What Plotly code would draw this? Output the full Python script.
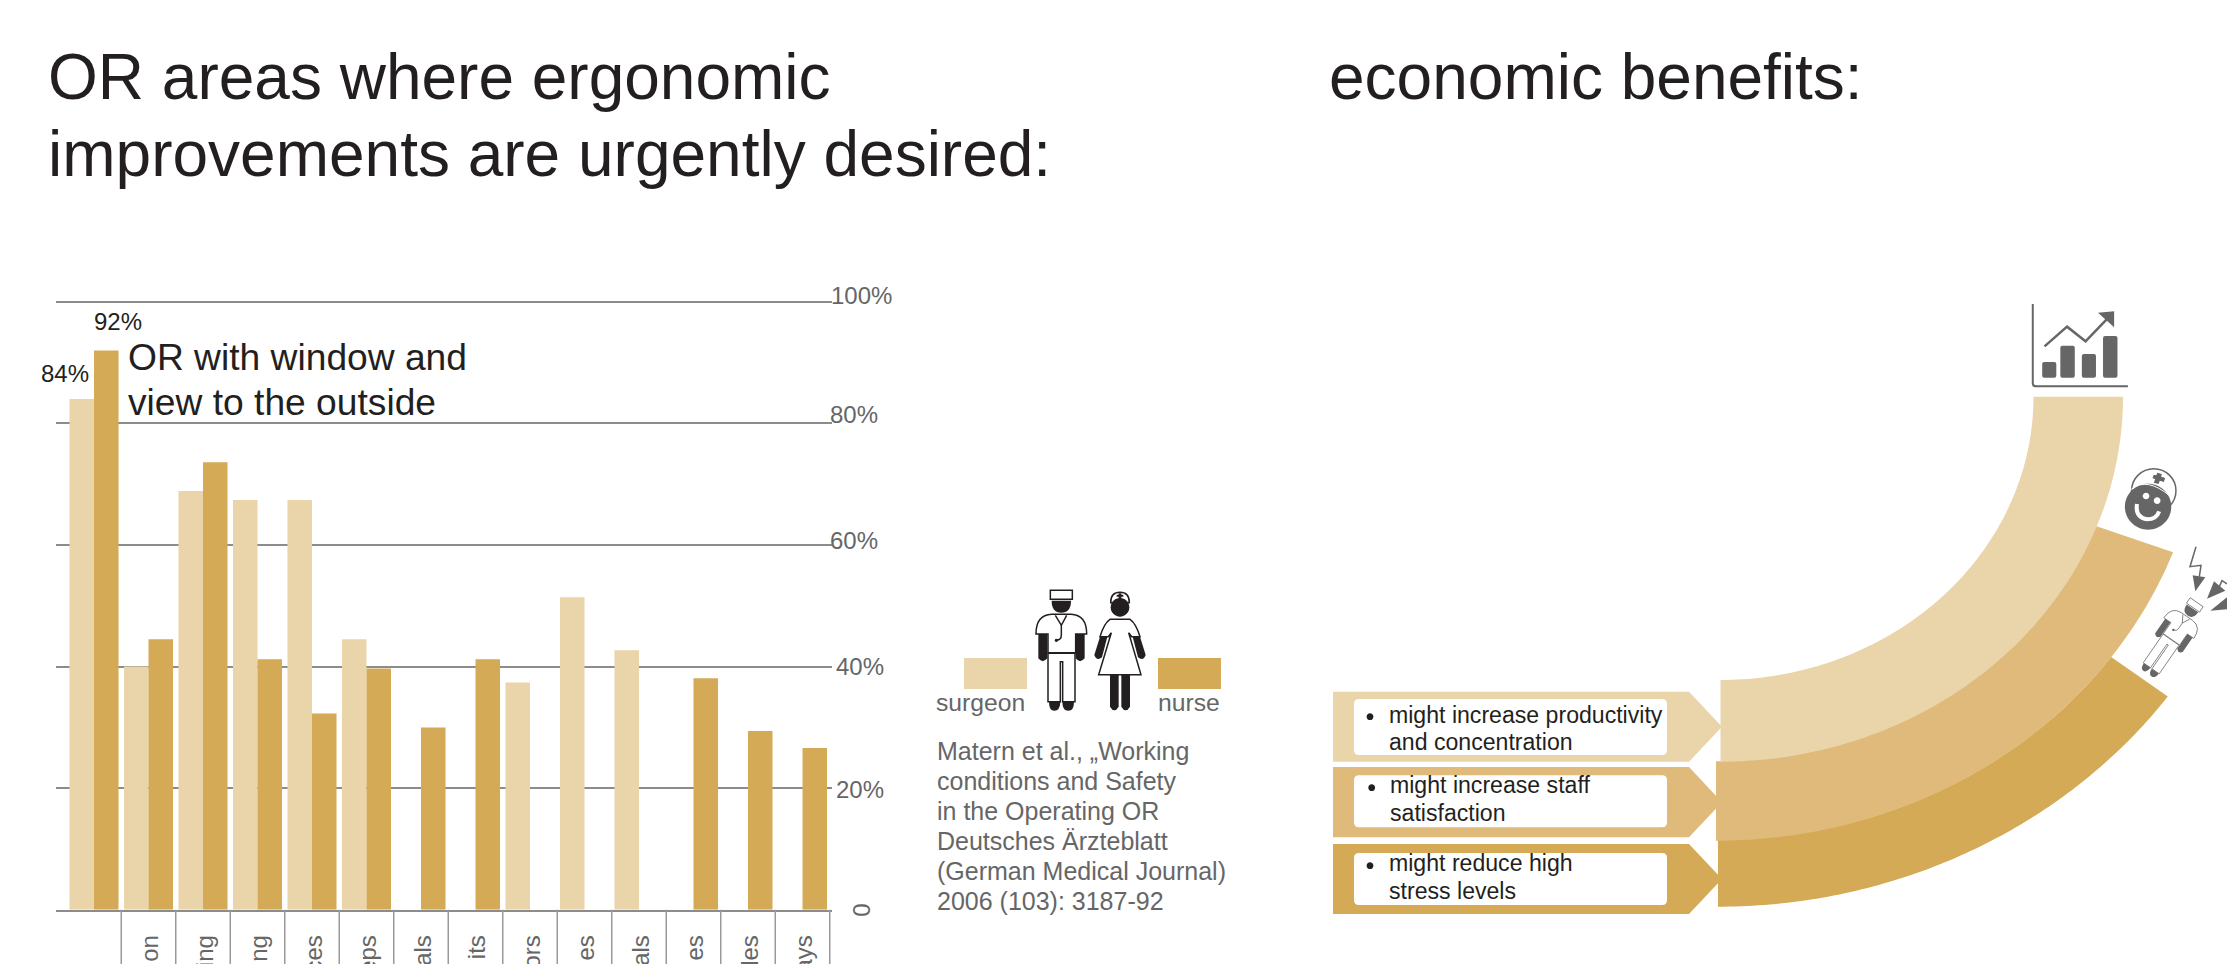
import math
import re
import plotly.graph_objects as go

W, H = 2227, 964

# Survey results, percent of respondents per OR area
tick_fragments = ["", "on", "ing", "ng", "ces", "eps", "als", "its", "ors", "es", "als", "es", "les", "ays"]
surgeon = [84, 40, 68.9, 67.4, 67.4, 44.5, None, None, 37.4, 51.4, 42.7, None, None, None]
nurse = [92, 44.5, 73.6, 41.2, 32.3, 39.7, 30, 41.2, None, None, None, 38.1, 29.4, 26.6]
y_ticks = [100, 80, 60, 40, 20]

title_left = ["OR areas where ergonomic", "improvements are urgently desired:"]
title_right = "economic benefits:"
callout = ["OR with window and", "view to the outside"]
citation = ["Matern et al., „Working", "conditions and Safety", "in the Operating OR",
            "Deutsches Ärzteblatt", "(German Medical Journal)", "2006 (103): 3187-92"]
benefits = [["might increase productivity", "and concentration"],
            ["might increase staff", "satisfaction"],
            ["might reduce high", "stress levels"]]

LIGHT, MID, DARK = "#EAD4A9", "#DFBA7B", "#D5AA57"
INK, GREY = "#231F20", "#666666"
FONT = "Liberation Sans"

# The scale runs slightly past 100 so the top gridline is kept
Y_MAX = 100.5
AX_L, AX_R, AX_B = 56, 832, 909.8
AX_T = AX_B - 6.08 * Y_MAX
CAT0, CAT_STEP = 94, 54.5


def px_x(x):
    return x / W


def px_y(y):
    return 1 - y / H


def path(d, fn=lambda x, y: (x, y)):
    """Map an absolute M/L/Q/C/Z path through fn, then into paper coordinates."""
    out, pending = [], []
    for tok in re.findall(r"[MLQCZ]|-?\d+\.?\d*", d):
        if tok.isalpha():
            out.append(tok)
        else:
            pending.append(float(tok))
            if len(pending) == 2:
                x, y = fn(*pending)
                out.append(f"{px_x(x):.6f},{px_y(y):.6f}")
                pending = []
    return " ".join(out)


def affine(ox, oy, sx, sy=None):
    sy = sx if sy is None else sy
    return lambda x, y: (ox + x * sx, oy + y * sy)


shapes, notes = [], []


def add_path(d, fn=lambda x, y: (x, y), fill=None, line=None, width=0):
    shapes.append(dict(type="path", path=path(d, fn), xref="paper", yref="paper", layer="above",
                       fillcolor=fill or "rgba(0,0,0,0)",
                       line=dict(color=line or "rgba(0,0,0,0)", width=width)))


def circle_d(cx, cy, r):
    k = 0.5523 * r
    return (f"M{cx - r} {cy} C{cx - r} {cy - k} {cx - k} {cy - r} {cx} {cy - r} "
            f"C{cx + k} {cy - r} {cx + r} {cy - k} {cx + r} {cy} "
            f"C{cx + r} {cy + k} {cx + k} {cy + r} {cx} {cy + r} "
            f"C{cx - k} {cy + r} {cx - r} {cy + k} {cx - r} {cy} Z")


def rrect_d(x0, y0, x1, y1, r):
    return (f"M{x0 + r} {y0} L{x1 - r} {y0} Q{x1} {y0} {x1} {y0 + r} L{x1} {y1 - r} Q{x1} {y1} {x1 - r} {y1} "
            f"L{x0 + r} {y1} Q{x0} {y1} {x0} {y1 - r} L{x0} {y0 + r} Q{x0} {y0} {x0 + r} {y0} Z")


def label(x, y, s, size, color=INK, anchor="left", angle=0):
    notes.append(dict(x=px_x(x), y=px_y(y), xref="paper", yref="paper", text=s, showarrow=False,
                      xanchor=anchor, yanchor="middle", textangle=angle, borderpad=0, borderwidth=0,
                      font=dict(family=FONT, size=size, color=color)))


def band(cx, cy, rx0, ry0, rx1, ry1, t0, t1, fill):
    """Elliptical ring segment between angles t0 and t1 (degrees, clockwise from east)."""
    steps = 90
    ts = [math.radians(t0 + (t1 - t0) * i / steps) for i in range(steps + 1)]
    outer = [(cx + rx1 * math.cos(t), cy + ry1 * math.sin(t)) for t in ts]
    inner = [(cx + rx0 * math.cos(t), cy + ry0 * math.sin(t)) for t in reversed(ts)]
    pts = outer + inner
    d = "M" + " L".join(f"{x:.2f} {y:.2f}" for x, y in pts) + " Z"
    add_path(d, fill=fill)


def draw_surgeon(fn, ink, line_w):
    add_path("M451 91 L517 91 L517 118 L451 118 Z", fn, "white", ink, line_w)
    add_path("M455 122 L513 122 Q513 158 484 158 Q455 158 455 122 Z", fn, ink)
    add_path("M415 218 L442 218 L442 295 Q428 312 415 295 Z", fn, ink)
    add_path("M527 218 L554 218 L554 295 Q540 312 527 295 Z", fn, ink)
    add_path("M444 280 L525 280 L525 425 L488 425 L488 305 L481 305 L481 425 L444 425 Z", fn, "white", ink, line_w)
    add_path("M408 222 Q408 165 455 163 L513 163 Q560 165 560 222 L527 222 L527 278 L444 278 L444 222 Z",
             fn, "white", ink, line_w)
    add_path("M466 166 L484 196 L500 166", fn, None, ink, line_w)
    add_path("M484 196 L484 225 Q484 240 470 240", fn, None, ink, line_w)
    add_path(circle_d(469, 241, 5), fn, ink)
    add_path("M447 425 L481 425 Q480 452 463 452 Q447 452 447 425 Z", fn, ink)
    add_path("M487 425 L522 425 Q522 452 505 452 Q487 452 487 425 Z", fn, ink)


def draw_nurse(fn, ink, line_w):
    add_path("M632 128 Q632 97 660 97 Q688 97 688 128 Z", fn, "white", ink, line_w)
    add_path("M656 100 L664 100 L664 104 L670 104 L670 110 L664 110 L664 116 L656 116 L656 110 L650 110 L650 104 L656 104 Z",
             fn, ink)
    add_path(circle_d(660, 142, 28), fn, ink)
    add_path("M600 230 L622 230 L606 292 Q590 305 583 285 Z", fn, ink)
    add_path("M698 230 L720 230 L737 285 Q730 305 714 292 Z", fn, ink)
    add_path("M630 344 L656 344 L656 440 Q643 462 630 440 Z", fn, ink)
    add_path("M664 344 L690 344 L690 440 Q677 462 664 440 Z", fn, ink)
    add_path("M630 178 L690 178 Q708 190 720 230 L695 230 L686 218 L723 344 L596 344 L634 218 L625 230 L600 230 Q612 190 630 178 Z",
             fn, "white", ink, line_w)


# Category separators hanging below the baseline
for i in range(len(tick_fragments)):
    shapes.append(dict(type="line", xref="x", yref="paper", x0=i + 0.5, x1=i + 0.5,
                       y0=px_y(AX_B), y1=0, layer="above", line=dict(color="#999999", width=1.5)))

# Legend swatches and the two figures between them
z2 = affine(900, 560, 1 / 3)
add_path("M192 294 L381 294 L381 387 L192 387 Z", z2, LIGHT)
add_path("M774 294 L963 294 L963 387 L774 387 Z", z2, DARK)
draw_surgeon(z2, INK, 1.5)
draw_nurse(z2, INK, 1.5)
label(936, 702, "surgeon", 24.7, GREY)
label(1158, 702, "nurse", 24.7, GREY)

for i, line in enumerate(citation):
    label(936.5, 750.5 + 30 * i, line, 25, GREY)

# Arrow banners with their white text boxes
for (y0, y1), (by0, by1), lines, (tx, y_a, y_b), (bx, by) in zip(
        [(691.7, 761.7), (767, 837.3), (844, 914)],
        [(699, 755), (775.3, 827.3), (853, 905)],
        benefits,
        [(1389.3, 715, 742), (1390.3, 785, 813), (1389.3, 863, 891)],
        [(1370, 716.7), (1371.7, 787.7), (1370, 865.7)]):
    color = {691.7: LIGHT, 767: MID, 844: DARK}[y0]
    mid = (y0 + y1) / 2
    add_path(f"M1333 {y0} L1689 {y0} L1722 {mid} L1689 {y1} L1333 {y1} Z", fill=color)
    add_path(rrect_d(1354, by0, 1667, by1, 5), fill="white")
    add_path(circle_d(bx, by, 3.4), fill=INK)
    label(tx, y_a, lines[0], 23.1)
    label(tx, y_b, lines[1], 23.1)

# Three stacked curved bands, lightest on top
band(1718, 396.7, 486, 443, 556, 510, 36, 90, DARK)
band(1716, 396.7, 400, 364.5, 488, 444, 20.5, 90, MID)
band(1720.5, 396.7, 313, 283.3, 402.5, 365, 0, 90, LIGHT)

# Rising-chart icon
z4 = affine(1700, 280, 1 / 2.975, 1 / 3)
add_path("M990 72 L990 310 Q990 319 1000 319 L1273 319", z4, None, GREY, 2)
for x0, y0, x1 in [(1018, 246, 1060), (1072, 197, 1115), (1136, 222, 1178), (1199, 168, 1242)]:
    add_path(rrect_d(x0, y0, x1, 293, 6), z4, GREY)
add_path("M1025 199 L1092 140 L1147 184 L1212 116", z4, None, GREY, 2.5)
add_path("M1184 98 L1232 94 L1232 142 Z", z4, GREY)

# Smiling nurse icon
add_path(circle_d(1350, 632, 66), z4, "white", GREY, 1.5)
add_path(circle_d(1333, 680, 69), z4, GREY)
add_path("M1283 628 Q1330 590 1398 648", z4, None, "white", 1)
add_path("M1360 578 L1374 582 L1372 590 L1384 594 L1380 606 L1368 602 L1364 612 L1350 608 L1354 598 L1346 594 L1350 584 L1358 586 Z",
         z4, GREY)
add_path(circle_d(1327, 648, 10), z4, "white")
add_path(circle_d(1360, 662, 10), z4, "white")
add_path("M1300 672 Q1294 712 1330 718 Q1358 718 1366 694", z4, None, "white", 4)

# Stressed surgeon icon, tilted, with lightning bolts
ang = math.radians(34.6)
scale = 0.24


def tilted(x, y):
    dx, dy = (x - 484) * scale, (y - 272) * scale
    return (2172 + dx * math.cos(ang) - dy * math.sin(ang),
            638 + dx * math.sin(ang) + dy * math.cos(ang))


draw_surgeon(tilted, GREY, 0.8)
z5 = affine(2100, 520, 1 / 3)
add_path("M288 80 L270 140 L303 136 L298 170", z5, None, GREY, 1.5)
add_path("M278 166 L316 172 L286 214 Z", z5, GREY)
add_path("M381 192 L366 182 L358 200", z5, None, GREY, 1.5)
add_path("M321 236 L342 184 L376 212 Z", z5, GREY)
add_path("M331 272 L381 232 L381 268 Z", z5, GREY)

# Headings and callouts
label(47.5, 77, title_left[0], 64)
label(47.5, 154, title_left[1], 64)
label(1329, 77, title_right, 64)
label(127.5, 356.5, callout[0], 37.2)
label(127.5, 402, callout[1], 37.2)

fig = go.Figure()
xs = list(range(len(tick_fragments)))
fig.add_bar(x=xs, y=surgeon, marker=dict(color=LIGHT, line=dict(width=0)), name="surgeon", hoverinfo="skip")
fig.add_bar(x=xs, y=nurse, marker=dict(color=DARK, line=dict(width=0)), name="nurse", hoverinfo="skip")

# Percentage scale at the right end of each gridline, placed by hand beside it
tick_offsets = {100: (831, -6), 80: (830, -9), 60: (830, -4.5), 40: (836, 0), 20: (836, 1)}
for v in y_ticks:
    x_left, shift = tick_offsets[v]
    notes.append(dict(x=px_x(x_left), y=v, xref="paper", yref="y", text=f"{v}%", showarrow=False,
                      xanchor="left", yanchor="middle", yshift=-shift, borderpad=0, borderwidth=0,
                      font=dict(family=FONT, size=24, color=GREY)))
notes.append(dict(x=px_x(862), y=0, xref="paper", yref="y", text="0", showarrow=False, textangle=-90,
                  xanchor="center", yanchor="middle", yshift=-1, borderpad=0, borderwidth=0,
                  font=dict(family=FONT, size=24, color=GREY)))

# Value labels on the first group
notes.append(dict(x=0, y=surgeon[0], xref="x", yref="y", text=f"{surgeon[0]}%", showarrow=False, xshift=-29,
                  yshift=26, xanchor="center", yanchor="middle", borderpad=0, borderwidth=0,
                  font=dict(family=FONT, size=24, color=INK)))
notes.append(dict(x=0, y=nurse[0], xref="x", yref="y", text=f"{nurse[0]}%", showarrow=False, xshift=24,
                  yshift=29, xanchor="center", yanchor="middle", borderpad=0, borderwidth=0,
                  font=dict(family=FONT, size=24, color=INK)))

fig.update_layout(
    width=W, height=H, margin=dict(l=0, r=0, t=0, b=0, autoexpand=False), paper_bgcolor="white", plot_bgcolor="white",
    barmode="group", bargap=0.1, bargroupgap=0, showlegend=False,
    font=dict(family=FONT, color=GREY), shapes=shapes, annotations=notes,
    xaxis=dict(domain=[px_x(AX_L), px_x(AX_R)], automargin=False,
               range=[(AX_L - CAT0) / CAT_STEP, (AX_R - CAT0) / CAT_STEP],
               tickmode="array", tickvals=xs, ticktext=tick_fragments, tickangle=-90,
               ticks="outside", ticklen=14, tickcolor="rgba(0,0,0,0)", tickfont=dict(size=24, color=GREY),
               ticklabelshift=2,
               showline=True, linecolor="#8C8C8C", linewidth=1.5, showgrid=False, zeroline=False),
    yaxis=dict(domain=[px_y(AX_B), px_y(AX_T)], range=[0, Y_MAX], automargin=False, tickmode="array",
               tickvals=y_ticks, showticklabels=False, ticks="", gridcolor="#8C8C8C", gridwidth=1.5,
               zeroline=False, showline=False),
)

fig.write_html("out.html", config=dict(displayModeBar=False))
